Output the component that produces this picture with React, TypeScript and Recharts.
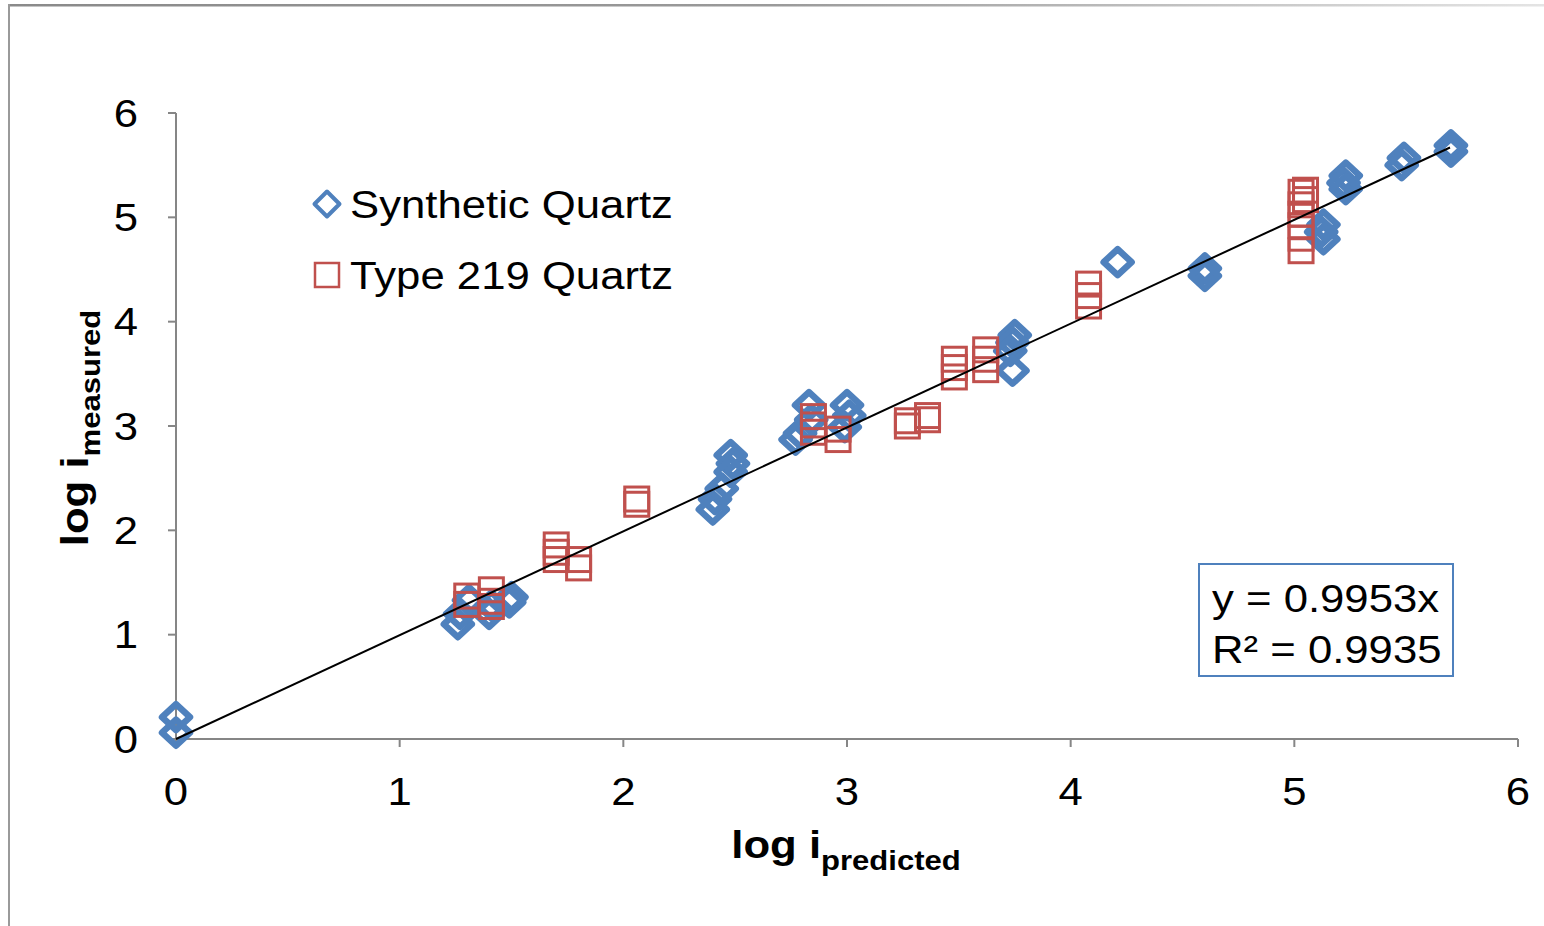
import React from 'react';
import { ScatterChart, Scatter, XAxis, YAxis, Legend, Customized } from 'recharts';

// Synthetic quartz: predicted vs measured (log scale values)
const synthX = [0, 0, 1.26, 1.27, 1.31, 1.4, 1.41, 1.49, 1.5, 2.4, 2.41, 2.44, 2.48, 2.49, 2.48, 2.77, 2.79, 2.83, 2.84, 3.0, 3.01, 2.99, 3.75, 3.74, 3.73, 3.74, 4.21, 4.6, 4.6, 5.13, 5.12, 5.13, 5.23, 5.22, 5.23, 5.49, 5.48, 5.7, 5.7];
const synthY = [0.21, 0.06, 1.1, 1.2, 1.33, 1.2, 1.28, 1.31, 1.36, 2.2, 2.3, 2.4, 2.72, 2.64, 2.56, 2.87, 2.93, 3.2, 3.06, 3.2, 3.1, 2.99, 3.87, 3.8, 3.72, 3.53, 4.57, 4.51, 4.44, 4.93, 4.86, 4.79, 5.4, 5.33, 5.27, 5.57, 5.5, 5.69, 5.63];

// Type 219 quartz
const type219X = [1.3, 1.3, 1.41, 1.41, 1.41, 1.7, 1.7, 1.7, 1.8, 1.8, 2.06, 2.06, 2.85, 2.85, 2.85, 2.96, 2.96, 3.27, 3.27, 3.36, 3.36, 3.48, 3.48, 3.48, 3.62, 3.62, 3.62, 4.08, 4.08, 4.08, 5.05, 5.03, 5.05, 5.03, 5.03, 5.03, 5.03, 5.03];
const type219Y = [1.37, 1.29, 1.43, 1.32, 1.27, 1.86, 1.79, 1.72, 1.72, 1.64, 2.3, 2.25, 3.09, 3.01, 2.94, 2.97, 2.87, 3.05, 3.0, 3.1, 3.06, 3.64, 3.56, 3.47, 3.73, 3.64, 3.54, 4.36, 4.25, 4.15, 5.26, 5.24, 5.17, 5.12, 5.03, 4.92, 4.8, 4.68];

const seriesNames = ['Synthetic Quartz', 'Type 219 Quartz'];
const axisTicks = [0, 1, 2, 3, 4, 5, 6];

// Linear fit through the origin
const fitSlope = 0.9953;
const fitR2 = 0.9935;
const fitXMax = 5.696;

const synthData = synthX.map((x, i) => ({ x, y: synthY[i] }));
const type219Data = type219X.map((x, i) => ({ x, y: type219Y[i] }));
const fitData = [
  { x: 0, y: 0 },
  { x: fitXMax, y: fitSlope * fitXMax },
];

const BLUE = '#4F81BD';
const RED = '#C0504D';
const AXIS_GRAY = '#868686';
const FONT = '"Liberation Sans", Arial, Helvetica, sans-serif';
const FS = 38;
const SUB_FS = 27;
const STRETCH = 1.15;

const Diamond = (p: any) => {
  const { cx, cy } = p;
  if (cx == null || cy == null) return <g />;
  return (
    <path
      d={`M${cx},${cy - 13} L${cx + 14},${cy} L${cx},${cy + 13} L${cx - 14},${cy} Z`}
      fill="none"
      stroke={BLUE}
      strokeWidth={6.5}
      strokeLinejoin="round"
    />
  );
};

const Square = (p: any) => {
  const { cx, cy } = p;
  if (cx == null || cy == null) return <g />;
  return <rect x={cx - 12} y={cy - 12} width={24} height={24} fill="none" stroke={RED} strokeWidth={3} />;
};

const NoMark = () => <g />;

const XTick = (p: any) => {
  const { x, y, payload } = p;
  return (
    <text
      transform={`translate(${x},${y + 58}) scale(${STRETCH},1)`}
      textAnchor="middle"
      fontSize={FS}
      fontFamily={FONT}
      fill="#000"
    >
      {payload.value}
    </text>
  );
};

const YTick = (p: any) => {
  const { x, y, payload } = p;
  return (
    <text
      transform={`translate(${x - 30},${y + 13.5}) scale(${STRETCH},1)`}
      textAnchor="end"
      fontSize={FS}
      fontFamily={FONT}
      fill="#000"
    >
      {payload.value}
    </text>
  );
};

const LegendContent = () => (
  <svg width={420} height={130} style={{ display: 'block' }}>
    <path d="M27,14.5 L39.5,27 L27,39.5 L14.5,27 Z" fill="none" stroke={BLUE} strokeWidth={4} strokeLinejoin="round" />
    <text transform={`translate(50,41) scale(${STRETCH},1)`} fontSize={FS} fontFamily={FONT} fill="#000">
      {seriesNames[0]}
    </text>
    <rect x={15} y={86} width={24} height={24} fill="none" stroke={RED} strokeWidth={2.5} />
    <text transform={`translate(50,112) scale(${STRETCH},1)`} fontSize={FS} fontFamily={FONT} fill="#000">
      {seriesNames[1]}
    </text>
  </svg>
);

// Chart frame, axis titles and the fit-equation box
const Decorations = () => (
  <g>
    <defs>
      <linearGradient id="frameTop" x1="0" x2="1" y1="0" y2="0">
        <stop offset="0" stopColor="#8a8a8a" />
        <stop offset="0.5" stopColor="#9a9a9a" />
        <stop offset="1" stopColor="#e4e4e4" />
      </linearGradient>
    </defs>
    <rect x={8} y={4} width={1536} height={2.5} fill="url(#frameTop)" />
    <rect x={8} y={4} width={2} height={922} fill="#9a9a9a" />

    <text
      transform={`translate(846,858) scale(${STRETCH},1)`}
      textAnchor="middle"
      fontFamily={FONT}
      fontWeight="bold"
      fill="#000"
    >
      <tspan fontSize={FS}>log i</tspan>
      <tspan fontSize={SUB_FS} dy={12}>predicted</tspan>
    </text>

    <text
      transform={`translate(88,428) rotate(-90) scale(${STRETCH},1)`}
      textAnchor="middle"
      fontFamily={FONT}
      fontWeight="bold"
      fill="#000"
    >
      <tspan fontSize={FS}>log i</tspan>
      <tspan fontSize={SUB_FS} dy={12}>measured</tspan>
    </text>

    <rect x={1199} y={564} width={254} height={112} fill="#fff" stroke={BLUE} strokeWidth={2} />
    <text transform={`translate(1212,612) scale(${STRETCH},1)`} fontSize={FS} fontFamily={FONT} fill="#000">
      {`y = ${fitSlope}x`}
    </text>
    <text transform={`translate(1212,663) scale(${STRETCH},1)`} fontSize={FS} fontFamily={FONT} fill="#000">
      {`R² = ${fitR2}`}
    </text>
  </g>
);

export default function App() {
  return (
    <div style={{ position: 'absolute', left: 0, top: 0, width: 1544, height: 926, background: '#fff', overflow: 'hidden' }}>
      <ScatterChart width={1544} height={926} margin={{ top: 113, right: 26, bottom: 0, left: 0 }}>
        <XAxis
          type="number"
          dataKey="x"
          domain={[0, 6]}
          ticks={axisTicks}
          interval={0}
          height={187}
          tickSize={8}
          tickMargin={0}
          axisLine={{ stroke: AXIS_GRAY, strokeWidth: 2 }}
          tickLine={{ stroke: AXIS_GRAY, strokeWidth: 2 }}
          tick={<XTick />}
        />
        <YAxis
          type="number"
          dataKey="y"
          domain={[0, 6]}
          ticks={axisTicks}
          interval={0}
          width={176}
          tickSize={8}
          tickMargin={0}
          axisLine={{ stroke: AXIS_GRAY, strokeWidth: 2 }}
          tickLine={{ stroke: AXIS_GRAY, strokeWidth: 2 }}
          tick={<YTick />}
        />
        <XAxis
          xAxisId="top"
          orientation="top"
          type="number"
          domain={[0, 6]}
          height={0}
          tick={false}
          tickLine={false}
          axisLine={{ stroke: '#000', strokeWidth: 2 }}
        />
        <YAxis
          yAxisId="right"
          orientation="right"
          type="number"
          domain={[0, 6]}
          width={0}
          tick={false}
          tickLine={false}
          axisLine={{ stroke: '#000', strokeWidth: 2 }}
        />
        <Legend
          layout="vertical"
          align="center"
          verticalAlign="middle"
          content={<LegendContent />}
          wrapperStyle={{ position: 'absolute', left: 300, top: 177, width: 420, height: 130 }}
        />
        <Scatter name={seriesNames[0]} data={synthData} shape={<Diamond />} isAnimationActive={false} />
        <Scatter name={seriesNames[1]} data={type219Data} shape={<Square />} isAnimationActive={false} />
        <Scatter
          name="fit"
          data={fitData}
          line={{ stroke: '#000', strokeWidth: 2 }}
          shape={<NoMark />}
          legendType="none"
          isAnimationActive={false}
        />
        <Customized component={<Decorations />} />
      </ScatterChart>
    </div>
  );
}
